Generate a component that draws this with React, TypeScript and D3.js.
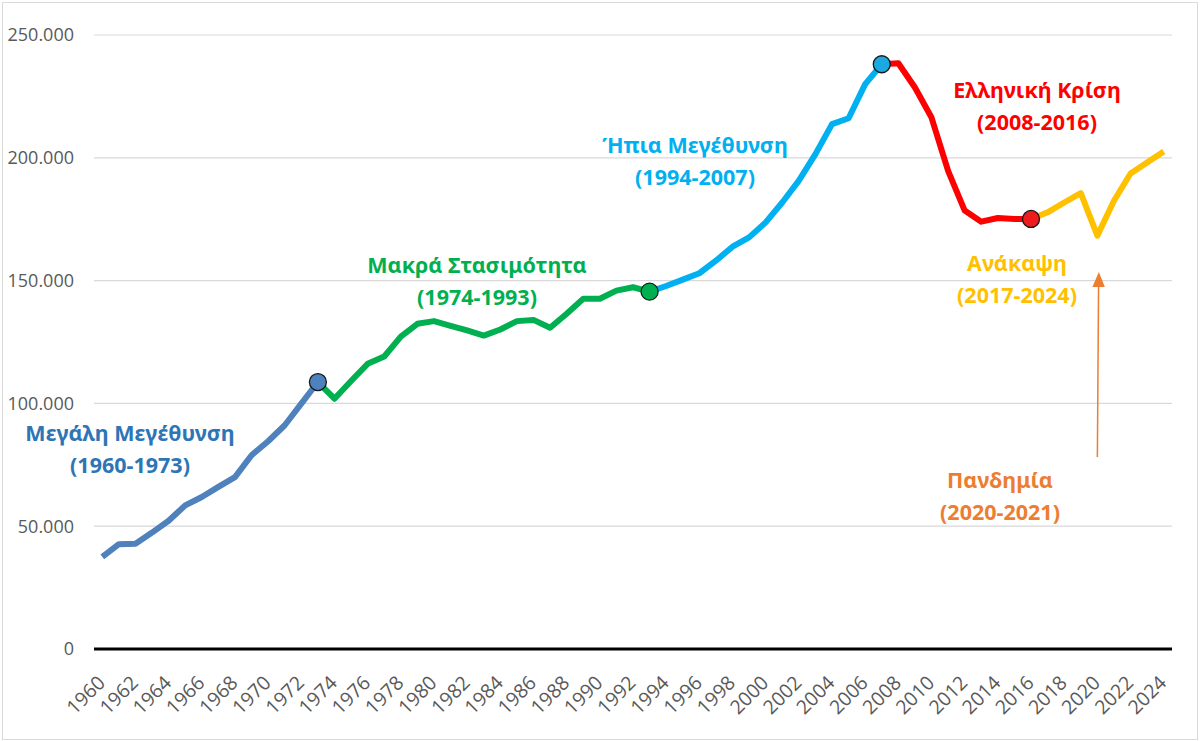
import { useEffect, useRef } from 'react';
import * as d3 from 'd3';

// GDP-like series, 1960-2024
const years = d3.range(1960, 2025);
const values = [
  37500, 42700, 42900, 47400, 52200, 58500, 61900, 66000, 70000, 78900,
  84600, 91100, 99900, 108700, 101900, 109100, 116100, 119100, 127200, 132400,
  133500, 131600, 129700, 127600, 130100, 133500, 134000, 130800, 136500, 142600,
  142600, 145900, 147300, 145500, 147800, 150400, 153000, 158100, 163800, 167600,
  173700, 181800, 190700, 201500, 213700, 216100, 230000, 238100, 238500, 228600,
  216400, 194700, 178500, 174000, 175500, 175100, 175100, 177800, 181800, 185600,
  168300, 182500, 193600, 198100, 202600,
];

// periods: [first year, last year, colour]
const periods: [number, number, string][] = [
  [1960, 1973, '#4F81BD'],
  [1973, 1993, '#00B050'],
  [1993, 2007, '#00B0F0'],
  [2007, 2016, '#FF0000'],
  [2016, 2024, '#FFC000'],
];

// period boundaries marked with a dot
const markerYears = [1973, 1993, 2007, 2016];
const markerColors = ['#4F81BD', '#00B050', '#1BA9E1', '#EE1C1C'];

const yTicks = [0, 50000, 100000, 150000, 200000, 250000];
const xTickYears = years.filter(y => y % 2 === 0);

interface Note {
  lines: string[];
  x: number;
  y: number;
  color: string;
}

const notes: Note[] = [
  { lines: ['Μεγάλη Μεγέθυνση', '(1960-1973)'], x: 130, y: 441, color: '#2E75B6' },
  { lines: ['Μακρά Στασιμότητα', '(1974-1993)'], x: 477, y: 273, color: '#00B050' },
  { lines: ['Ήπια Μεγέθυνση', '(1994-2007)'], x: 695, y: 153, color: '#00B0F0' },
  { lines: ['Ελληνική Κρίση', '(2008-2016)'], x: 1037, y: 98, color: '#FF0000' },
  { lines: ['Ανάκαψη', '(2017-2024)'], x: 1017, y: 271, color: '#FFC000' },
  { lines: ['Πανδημία', '(2020-2021)'], x: 1000, y: 488, color: '#ED7D31' },
];

const App = () => {
  const svgRef = useRef<SVGSVGElement>(null);

  useEffect(() => {
    if (!svgRef.current) return;
    const svg = d3.select(svgRef.current);
    svg.selectAll('*').remove();

    const width = 1200;
    const height = 741;
    const left = 94;
    const right = 1172;
    const top = 35;
    const bottom = 649;
    const font = "'Open Sans', 'Noto Sans', sans-serif";
    const noteFont = "'Noto Sans', 'Open Sans', sans-serif";

    // outer frame
    svg.append('rect')
      .attr('x', 2.5).attr('y', 2.5)
      .attr('width', width - 5).attr('height', height - 4)
      .attr('fill', '#fff')
      .attr('stroke', '#D9D9D9')
      .attr('stroke-width', 1);

    const x = d3.scaleBand<number>()
      .domain(years)
      .range([left, right]);
    const cx = (yr: number) => (x(yr) ?? 0) + x.bandwidth() / 2;

    const y = d3.scaleLinear()
      .domain([0, 250000])
      .range([bottom, top]);

    // gridlines
    svg.append('g')
      .selectAll('line')
      .data(yTicks.filter(t => t > 0))
      .join('line')
      .attr('x1', left).attr('x2', right)
      .attr('y1', d => y(d)).attr('y2', d => y(d))
      .attr('stroke', '#D9D9D9')
      .attr('stroke-width', 1.2);

    // y labels
    const fmt = (v: number) => v === 0 ? '0' : d3.format(',')(v).replace(/,/g, '.');
    svg.append('g')
      .selectAll('text')
      .data(yTicks)
      .join('text')
      .attr('x', 74)
      .attr('y', d => y(d))
      .attr('dy', '0.36em')
      .attr('text-anchor', 'end')
      .attr('font-family', font)
      .attr('font-size', 18)
      .attr('fill', '#595959')
      .text(d => fmt(d));

    // zero line
    svg.append('line')
      .attr('x1', left).attr('x2', right)
      .attr('y1', y(0)).attr('y2', y(0))
      .attr('stroke', '#000')
      .attr('stroke-width', 3);

    // x labels, rotated
    svg.append('g')
      .selectAll('text')
      .data(xTickYears)
      .join('text')
      .attr('transform', d => `translate(${cx(d) + 4},${y(0) + 35}) rotate(-45)`)
      .attr('text-anchor', 'end')
      .attr('font-family', font)
      .attr('font-size', 19.5)
      .attr('fill', '#595959')
      .text(d => String(d));

    // coloured line per period
    const line = d3.line<number>()
      .x(yr => cx(yr))
      .y(yr => y(values[yr - 1960]));

    periods.forEach(([a, b, color]) => {
      svg.append('path')
        .datum(d3.range(a, b + 1))
        .attr('d', line)
        .attr('fill', 'none')
        .attr('stroke', color)
        .attr('stroke-width', 6)
        .attr('stroke-linejoin', 'round');
    });

    // boundary markers
    svg.append('g')
      .selectAll('circle')
      .data(markerYears)
      .join('circle')
      .attr('cx', d => cx(d))
      .attr('cy', d => y(values[d - 1960]))
      .attr('r', 8.5)
      .attr('fill', (_, i) => markerColors[i])
      .attr('stroke', '#1a1a1a')
      .attr('stroke-width', 1.3);

    // period notes
    notes.forEach(n => {
      const t = svg.append('text')
        .attr('text-anchor', 'middle')
        .attr('font-family', noteFont)
        .attr('font-weight', 700)
        .attr('font-size', 21.5)
        .attr('fill', n.color);
      n.lines.forEach((s, i) => {
        t.append('tspan')
          .attr('x', n.x)
          .attr('y', n.y + i * 31.5)
          .text(s);
      });
    });

    // pandemic arrow
    const ax = cx(2020);
    svg.append('line')
      .attr('x1', ax).attr('y1', 457)
      .attr('x2', ax + 1.2).attr('y2', 285)
      .attr('stroke', '#ED7D31')
      .attr('stroke-width', 1.5);
    svg.append('path')
      .attr('d', `M${ax + 1.5},272 L${ax - 5},287 L${ax + 7.5},287 Z`)
      .attr('fill', '#ED7D31');
  }, []);

  return (
    <div style={{ position: 'absolute', left: 0, top: 0 }}>
      <svg ref={svgRef} width={1200} height={741} style={{ display: 'block' }} />
    </div>
  );
};

export default App;
